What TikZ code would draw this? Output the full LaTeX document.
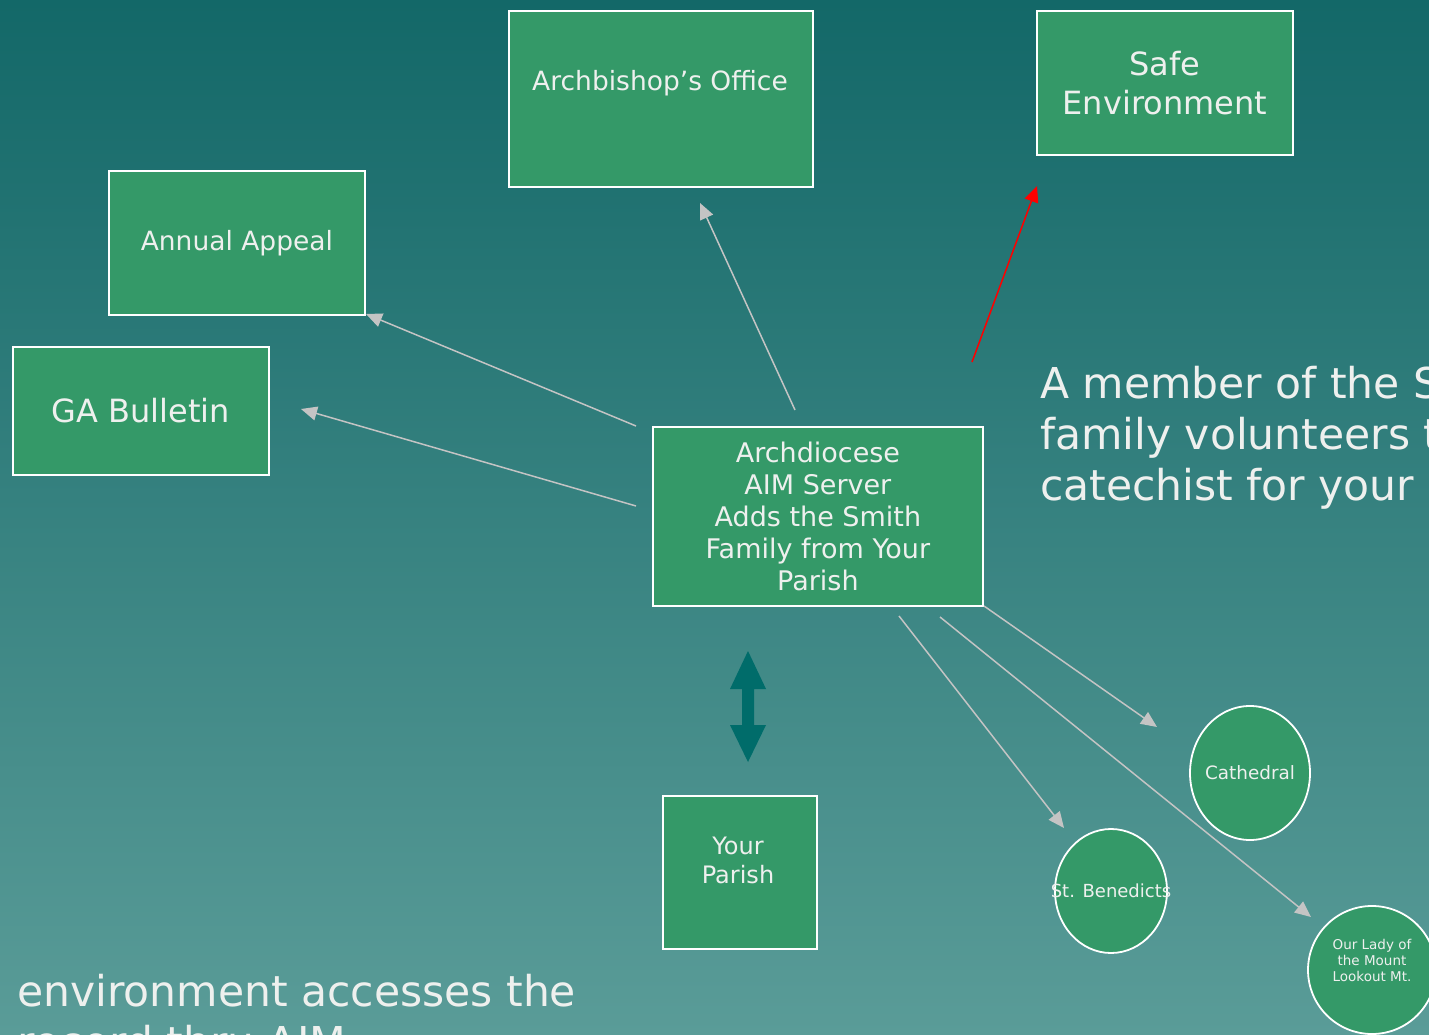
\documentclass[tikz,border=0pt]{standalone}
\usepackage{fontspec}
\setmainfont{DejaVu Sans}
\usetikzlibrary{arrows.meta,shapes.geometric}
\definecolor{bgtop}{RGB}{19,104,104}
\definecolor{bgbot}{RGB}{90,156,152}
\definecolor{boxgreen}{RGB}{52,153,104}
\definecolor{conn}{RGB}{196,196,196}
\definecolor{dteal}{RGB}{0,108,106}
\definecolor{txt}{RGB}{238,240,238}
\newcommand{\fsz}[1]{\fontsize{#1}{#1}\selectfont}
\begin{document}
\begin{tikzpicture}[x=1pt,y=-1pt,
  box/.style={draw=white,line width=1.8pt,fill=boxgreen,inner sep=0pt,anchor=north west},
  oval/.style={draw=white,line width=1.8pt,fill=boxgreen,ellipse,inner sep=0pt},
  lbl/.style={text=txt,align=center,inner sep=0pt},
  big/.style={text=txt,align=left,inner sep=0pt,anchor=base west,font=\fontsize{42.5}{51}\selectfont},
  conn/.style={draw=conn,line width=1.5pt,-{Triangle[length=16pt,width=14pt]}},
  red/.style={draw=red,line width=1.5pt,-{Triangle[length=16pt,width=14pt]}}]
\useasboundingbox (0,0) rectangle (1429,1035);
\clip (0,0) rectangle (1429,1035);
\shade[top color=bgtop,bottom color=bgbot] (0,0) rectangle (1429,1035);

% boxes
\node[box,minimum width=304pt,minimum height=176pt] (arch) at (508,10) {};
\node[lbl,font=\fsz{26.5}] (archT) at (660,83) {Archbishop’s Office};
\node[box,minimum width=256pt,minimum height=144pt,text=txt,align=center,font=\fontsize{32}{39}\selectfont] (safe) at (1036,10) {Safe\\Environment};
\node[box,minimum width=256pt,minimum height=144pt,text=txt,font=\fsz{26.5}] (appeal) at (108,170) {Annual Appeal};
\node[box,minimum width=256pt,minimum height=128pt,text=txt,font=\fsz{32}] (ga) at (12,346) {GA Bulletin};
\node[box,minimum width=330pt,minimum height=179pt,text=txt,align=center,font=\fontsize{27}{32}\selectfont] (aim) at (652,426) {Archdiocese\\AIM Server\\Adds the Smith\\Family from Your\\Parish};
\node[box,minimum width=154pt,minimum height=153pt] (parish) at (662,795) {};
\node[lbl,font=\fontsize{24}{29}\selectfont] (parishT) at (738,860) {Your\\Parish};

% ovals
\node[oval,minimum width=120pt,minimum height=134pt] (cath) at (1250,773) {};
\node[lbl,font=\fsz{18.4}] (cathT) at (cath) {Cathedral};
\node[oval,minimum width=112pt,minimum height=124pt] (bene) at (1111,891) {};
\node[lbl,font=\fsz{18}] (beneT) at (bene) {St. Benedicts};
\node[oval,minimum width=128pt,minimum height=128pt] (lady) at (1372,970) {};
\node[lbl,font=\fontsize{13.5}{16}\selectfont] (ladyT) at (1372,960) {Our Lady of\\the Mount\\Lookout Mt.};

% free texts
\node[big] (member) at (1040,398) {A member of the Smith};
\node[big] (member2) at (1040,449) {family volunteers to be a};
\node[big] (member3) at (1040,500) {catechist for your parish.};
\node[big] (env) at (17,1006) {environment accesses the};
\node[big] (env2) at (17,1057) {record thru AIM.};

% connector end points
\coordinate (a1) at (795,410); \coordinate (a1e) at (700,203);
\coordinate (a2) at (636,426); \coordinate (a2e) at (366,314);
\coordinate (a3) at (636,506); \coordinate (a3e) at (301,409);
\coordinate (r1) at (972,362); \coordinate (r1e) at (1037,186);
\coordinate (c1) at (984,606); \coordinate (c1e) at (1157,727);
\coordinate (c2) at (940,617); \coordinate (c2e) at (1311,917);
\coordinate (c3) at (899,616); \coordinate (c3e) at (1064,828);

\draw[conn] (a1) -- (a1e);
\draw[conn] (a2) -- (a2e);
\draw[conn] (a3) -- (a3e);
\draw[red] (r1) -- (r1e);
\draw[conn] (c1) -- (c1e);
\draw[conn] (c2) -- (c2e);
\draw[conn] (c3) -- (c3e);

% double arrow
\fill[dteal] (748,651) -- (766,689) -- (754,689) -- (754,725) -- (766,725) -- (748,762) -- (730,725) -- (742,725) -- (742,689) -- (730,689) -- cycle;
\end{tikzpicture}
\end{document}
